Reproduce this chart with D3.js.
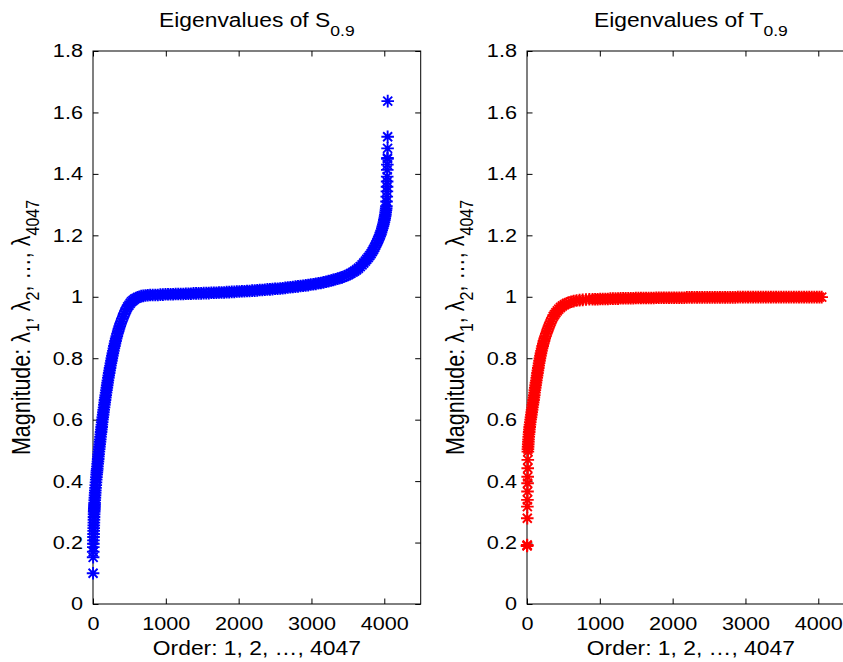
<!DOCTYPE html>
<html>
<head>
<meta charset="utf-8">
<script src="https://cdn.jsdelivr.net/npm/d3@7"></script>
<style>
  body { margin: 0; background: #fff; }
  svg text { font-family: "Liberation Sans", Arial, Helvetica, sans-serif; fill: #000; }
</style>
</head>
<body>
<svg id="chart" width="843" height="662"></svg>
<script>

// eigenvalues of S_0.9 (order, magnitude)
var sOrder = [
  1, 2, 3, 4, 5, 6, 7, 8, 9, 10,
  11, 12, 13, 14, 15, 16, 17, 18, 19, 20,
  21, 22, 24, 26, 28, 30, 32, 35, 38, 41,
  44, 47, 50, 53, 55,
  58, 61, 64, 68, 71, 74, 77, 81, 85, 88,
  92, 96, 100, 103, 107, 111, 115, 119, 122, 126,
  130, 134, 139, 143, 147, 152, 156, 161, 165, 170,
  175, 180, 185, 190, 195, 200, 205, 211, 216, 222,
  228, 234, 240, 246, 253, 259, 266, 273, 280, 287,
  294, 302, 310, 318, 327, 336, 346, 356, 367, 378,
  390, 403, 416, 429, 444, 460, 476, 494, 512, 530,
  549, 568, 590, 612, 636, 662, 690, 720, 752, 785,
  820, 855, 890, 925, 960, 995, 1030, 1065, 1100, 1135,
  1170, 1205, 1240, 1275, 1310, 1345, 1380, 1415, 1450, 1485,
  1520, 1555, 1590, 1625, 1660, 1695, 1730, 1765, 1800, 1835,
  1870, 1905, 1940, 1975, 2010, 2045, 2080, 2115, 2150, 2185,
  2220, 2255, 2290, 2325, 2360, 2395, 2430, 2465, 2500, 2535,
  2570, 2605, 2640, 2675, 2710, 2745, 2780, 2815, 2850, 2885,
  2920, 2955, 2990, 3025, 3060, 3095, 3130, 3165, 3200, 3235,
  3270, 3300, 3330, 3360, 3390, 3420, 3450, 3480, 3510, 3540,
  3570, 3595, 3620, 3645, 3670, 3695, 3718, 3740, 3760, 3780,
  3800, 3818, 3835, 3852, 3868, 3883, 3897, 3910, 3922, 3934,
  3945, 3955, 3964, 3973, 3981, 3988, 3995, 4001, 4006, 4011,
  4015, 4019, 4023, 4026, 4029,
  4031, 4034, 4036, 4038, 4039, 4040, 4041, 4042, 4043, 4044,
  4045, 4046, 4047
];
var sValue = [
  0.100, 0.152, 0.170, 0.185, 0.196, 0.207, 0.218, 0.228, 0.238, 0.247,
  0.256, 0.265, 0.274, 0.283, 0.292, 0.300, 0.305, 0.310, 0.315, 0.320,
  0.325, 0.330, 0.338, 0.346, 0.354, 0.362, 0.370, 0.378, 0.387, 0.396,
  0.405, 0.413, 0.421, 0.428, 0.434,
  0.440, 0.448, 0.456, 0.464, 0.472, 0.480, 0.488, 0.496, 0.504, 0.512,
  0.520, 0.528, 0.536, 0.544, 0.552, 0.560, 0.568, 0.576, 0.584, 0.592,
  0.600, 0.608, 0.616, 0.624, 0.632, 0.640, 0.648, 0.656, 0.664, 0.672,
  0.680, 0.688, 0.696, 0.704, 0.712, 0.720, 0.728, 0.736, 0.744, 0.752,
  0.760, 0.768, 0.776, 0.784, 0.792, 0.800, 0.808, 0.816, 0.824, 0.832,
  0.840, 0.848, 0.856, 0.864, 0.872, 0.880, 0.888, 0.896, 0.904, 0.912,
  0.920, 0.928, 0.936, 0.944, 0.952, 0.960, 0.967, 0.973, 0.979, 0.984,
  0.988, 0.992, 0.995, 0.998, 1.000, 1.002, 1.003, 1.004, 1.005, 1.006,
  1.006, 1.006, 1.006, 1.007, 1.007, 1.008, 1.008, 1.008, 1.008, 1.009,
  1.009, 1.009, 1.009, 1.010, 1.010, 1.010, 1.011, 1.011, 1.011, 1.011,
  1.012, 1.012, 1.012, 1.013, 1.013, 1.013, 1.014, 1.014, 1.014, 1.015,
  1.015, 1.016, 1.016, 1.017, 1.017, 1.018, 1.018, 1.019, 1.019, 1.020,
  1.020, 1.021, 1.022, 1.022, 1.023, 1.024, 1.024, 1.025, 1.026, 1.026,
  1.027, 1.028, 1.029, 1.030, 1.031, 1.032, 1.033, 1.034, 1.035, 1.036,
  1.037, 1.038, 1.040, 1.041, 1.042, 1.044, 1.045, 1.047, 1.049, 1.051,
  1.053, 1.055, 1.057, 1.059, 1.061, 1.063, 1.066, 1.069, 1.072, 1.076,
  1.080, 1.084, 1.088, 1.093, 1.098, 1.104, 1.110, 1.116, 1.122, 1.128,
  1.134, 1.140, 1.147, 1.154, 1.161, 1.168, 1.175, 1.182, 1.189, 1.196,
  1.202, 1.209, 1.216, 1.223, 1.230, 1.236, 1.243, 1.250, 1.256, 1.262,
  1.268, 1.275, 1.282, 1.288, 1.295,
  1.310, 1.326, 1.343, 1.358, 1.375, 1.391, 1.413, 1.430, 1.449, 1.452,
  1.483, 1.521, 1.637
];

// eigenvalues of T_0.9
var tOrder = [
  1, 2, 3, 4, 5, 6, 7, 8, 9, 10,
  11, 12,
  13, 15, 17, 19, 21, 24, 27, 30, 33, 37,
  41, 45, 50, 55, 60, 65, 70, 75, 80, 85,
  90, 95, 100, 104, 108, 113, 118, 123, 129, 134,
  139, 144, 150, 155, 161, 166, 172, 178, 185, 192,
  199, 207, 215, 224, 233, 243, 254, 265, 277, 289,
  302, 316, 330, 345, 361, 378, 396, 416, 437, 460,
  485, 512, 541, 572, 606, 642, 681, 722, 765, 810,
  856,
  900, 935, 970, 1005, 1040, 1075, 1110, 1145, 1180, 1215,
  1250, 1285, 1320, 1355, 1390, 1425, 1460, 1495, 1530, 1565,
  1600, 1635, 1670, 1705, 1740, 1775, 1810, 1845, 1880, 1915,
  1950, 1985, 2020, 2055, 2090, 2125, 2160, 2195, 2230, 2265,
  2300, 2335, 2370, 2405, 2440, 2475, 2510, 2545, 2580, 2615,
  2650, 2685, 2720, 2755, 2790, 2825, 2860, 2895, 2930, 2965,
  3000, 3035, 3070, 3105, 3140, 3175, 3210, 3245, 3280, 3315,
  3350, 3385, 3420, 3455, 3490, 3525, 3560, 3595, 3630, 3665,
  3700, 3735, 3770, 3805, 3840, 3875, 3910, 3945, 3980, 4015,
  4047
];
var tValue = [
  0.189, 0.190, 0.192, 0.279, 0.317, 0.339, 0.366, 0.393, 0.414, 0.442,
  0.469, 0.496,
  0.504, 0.512, 0.520, 0.528, 0.536, 0.544, 0.552, 0.560, 0.568, 0.576,
  0.584, 0.592, 0.600, 0.608, 0.616, 0.624, 0.632, 0.640, 0.648, 0.656,
  0.664, 0.672, 0.680, 0.688, 0.696, 0.704, 0.712, 0.720, 0.728, 0.736,
  0.744, 0.752, 0.760, 0.768, 0.776, 0.784, 0.792, 0.800, 0.808, 0.816,
  0.824, 0.832, 0.840, 0.848, 0.856, 0.864, 0.872, 0.880, 0.888, 0.896,
  0.904, 0.912, 0.920, 0.928, 0.936, 0.942, 0.948, 0.954, 0.960, 0.965,
  0.970, 0.974, 0.978, 0.981, 0.984, 0.986, 0.988, 0.989, 0.990, 0.991,
  0.992,
  0.992, 0.992, 0.992, 0.993, 0.993, 0.993, 0.993, 0.994, 0.994, 0.994,
  0.994, 0.995, 0.995, 0.995, 0.995, 0.995, 0.995, 0.996, 0.996, 0.996,
  0.996, 0.996, 0.996, 0.996, 0.996, 0.997, 0.997, 0.997, 0.997, 0.997,
  0.997, 0.997, 0.997, 0.997, 0.997, 0.997, 0.997, 0.998, 0.998, 0.998,
  0.998, 0.998, 0.998, 0.998, 0.998, 0.998, 0.998, 0.998, 0.998, 0.998,
  0.998, 0.998, 0.998, 0.998, 0.998, 0.998, 0.998, 0.999, 0.999, 0.999,
  0.999, 0.999, 0.999, 0.999, 0.999, 0.999, 0.999, 0.999, 0.999, 0.999,
  0.999, 0.999, 0.999, 0.999, 0.999, 0.999, 0.999, 0.999, 0.999, 0.999,
  0.999, 0.999, 0.999, 0.999, 0.999, 0.999, 0.999, 0.999, 0.999, 0.999,
  0.999
];

var xTicks = [0, 1000, 2000, 3000, 4000];
var yTicks = [0, 0.2, 0.4, 0.6, 0.8, 1, 1.2, 1.4, 1.6, 1.8];
var yTickLabels = ["0", "0.2", "0.4", "0.6", "0.8", "1", "1.2", "1.4", "1.6", "1.8"];

var svg = d3.select("#chart");

// the original figure is stretched sideways a little, text too
var stretch = 1.17;
var axW = 327.7, axTop = 51, axBottom = 604;

// matlab style '*' marker
var star = "M-6.3,0H6.3M0,-6.3V6.3M-4.5,-4.5L4.5,4.5M-4.5,4.5L4.5,-4.5";

function drawPanel(left, letter, orders, values, colour) {

  var x = d3.scaleLinear().domain([0, 4500]).range([left, left + axW]);
  var y = d3.scaleLinear().domain([0, 1.8]).range([axBottom, axTop]);
  var cx = left + axW / 2;

  var g = svg.append("g");

  // box
  g.append("rect")
    .attr("x", left).attr("y", axTop)
    .attr("width", axW).attr("height", axBottom - axTop)
    .attr("fill", "none").attr("stroke", "#000").attr("stroke-width", 1);

  // bottom axis with labels
  var xAxis = g.append("g")
    .attr("transform", "translate(0," + axBottom + ")")
    .call(d3.axisBottom(x).tickValues(xTicks).tickFormat(d3.format("d"))
      .tickSizeInner(-5.5).tickSizeOuter(0).tickPadding(13));

  // left axis with labels
  var yAxis = g.append("g")
    .attr("transform", "translate(" + left + ",0)")
    .call(d3.axisLeft(y).tickValues(yTicks)
      .tickFormat(function(d, i) { return yTickLabels[i]; })
      .tickSizeInner(-5.5).tickSizeOuter(0).tickPadding(8.6));

  // mirrored ticks on top and right
  var topAxis = g.append("g")
    .attr("transform", "translate(0," + axTop + ")")
    .call(d3.axisTop(x).tickValues(xTicks).tickFormat("")
      .tickSizeInner(-5.5).tickSizeOuter(0));
  var rightAxis = g.append("g")
    .attr("transform", "translate(" + (left + axW) + ",0)")
    .call(d3.axisRight(y).tickValues(yTicks).tickFormat("")
      .tickSizeInner(-5.5).tickSizeOuter(0));

  [xAxis, yAxis, topAxis, rightAxis].forEach(function(a) {
    a.select(".domain").remove();
    a.attr("font-family", null).attr("font-size", null);
    a.selectAll("text")
      .style("font-size", "18.5px")
      .attr("transform", "scale(" + stretch + ",1)");
  });

  // title
  var title = g.append("text")
    .attr("transform", "translate(" + cx + ",27) scale(" + stretch + ",1)")
    .attr("text-anchor", "middle")
    .style("font-size", "19.5px");
  title.append("tspan").text("Eigenvalues of " + letter);
  title.append("tspan").style("font-size", "15px").attr("dy", 9).text("0.9");

  // x label
  g.append("text")
    .attr("transform", "translate(" + cx + ",655) scale(" + stretch + ",1)")
    .attr("text-anchor", "middle")
    .style("font-size", "19.5px")
    .text("Order: 1, 2, \u2026, 4047");

  // y label
  var ylab = g.append("text")
    .attr("transform", "translate(" + (left - 63) + "," + ((axTop + axBottom) / 2) + ") scale(" + stretch + ",1) rotate(-90)")
    .attr("text-anchor", "middle")
    .style("font-size", "21.5px");
  var parts = [["Magnitude: \u03bb", "1"], [", \u03bb", "2"], [", \u2026, \u03bb", "4047"]];
  parts.forEach(function(p, i) {
    ylab.append("tspan").attr("dy", i ? -8 : 0).text(p[0]);
    ylab.append("tspan").style("font-size", "16px").attr("dy", 8).text(p[1]);
  });

  // eigenvalue markers
  g.append("g").selectAll("path")
    .data(d3.zip(orders, values))
    .join("path")
    .attr("d", star)
    .attr("transform", function(d) { return "translate(" + x(d[0]) + "," + y(d[1]) + ")"; })
    .attr("fill", "none")
    .attr("stroke", colour)
    .attr("stroke-width", 1.9);
}

drawPanel(93, "S", sOrder, sValue, "#0000ff");
drawPanel(527, "T", tOrder, tValue, "#ff0000");

</script>
</body>
</html>
